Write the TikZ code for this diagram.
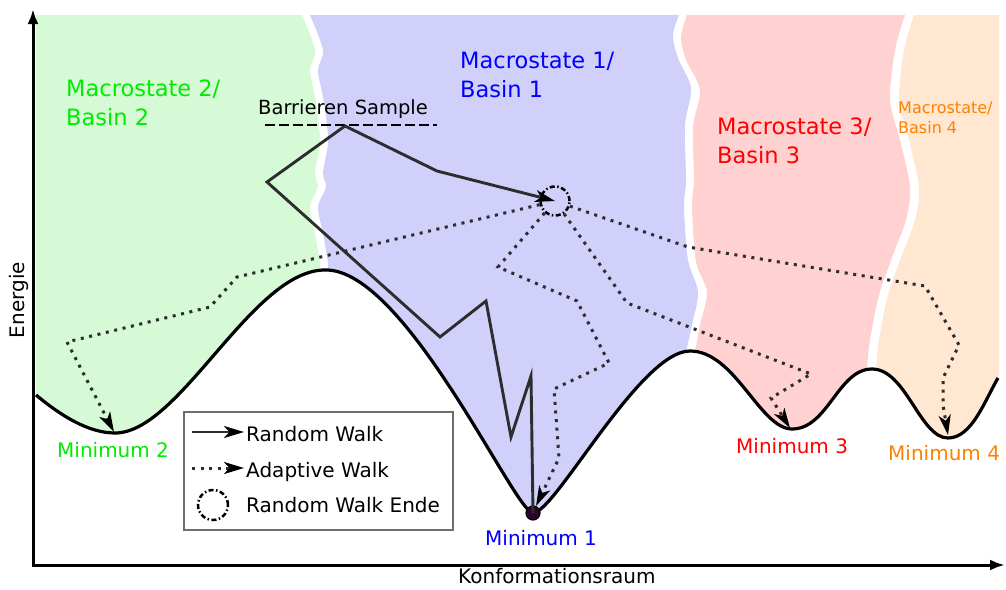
\documentclass[tikz,border=0pt]{standalone}
\usepackage{fontspec}
\setmainfont{DejaVu Sans}
\usetikzlibrary{arrows.meta}

\definecolor{fillGreen}{RGB}{213,250,213}
\definecolor{fillBlue}{RGB}{208,208,251}
\definecolor{fillRed}{RGB}{255,209,209}
\definecolor{fillOrange}{RGB}{255,231,210}
\definecolor{txtGreen}{RGB}{0,235,0}
\definecolor{txtBlue}{RGB}{0,0,255}
\definecolor{txtRed}{RGB}{255,0,0}
\definecolor{txtOrange}{RGB}{255,128,0}
\definecolor{walkgray}{RGB}{45,45,45}
\definecolor{legendgray}{RGB}{110,110,110}
\definecolor{dotpurple}{RGB}{45,5,40}

\begin{document}
\begin{tikzpicture}[x=1pt,y=-1pt,
  walktip/.style={-{Stealth[length=20pt,width=12pt,inset=5.5pt,color=black]}},
  rwalk/.style={walkgray, line width=2.9pt, line join=miter, walktip},
  awalk/.style={walkgray, line width=3pt, dash pattern=on 3pt off 5.6pt, walktip},
  axisline/.style={black, line width=3pt, {Latex[length=15pt,width=11pt]}-{Latex[length=15pt,width=11pt]}},
  landscape/.style={black, line width=3.2pt},
  endring/.style={circle, draw=black, line width=2.5pt, minimum size=29pt, inner sep=0pt,
    dash pattern=on 5pt off 2.5pt on 1.5pt off 2.5pt},
  bigtxt/.style={anchor=base west, inner sep=0pt, align=left, font=\fontsize{22.5}{28.5}\selectfont},
  midtxt/.style={anchor=base west, inner sep=0pt, font=\fontsize{20}{24}\selectfont},
]
\useasboundingbox (0,0) rectangle (1006,589);

% coloured basins, kept above the energy landscape
\begin{scope}
  \clip (36,395) .. controls (60,415) and (88,433) .. (115,433)
    .. controls (180,433) and (252,270) .. (325,270)
    .. controls (405,268) and (515,513) .. (533,513)
    .. controls (555,513) and (640,351) .. (690,351)
    .. controls (735,351) and (760,429) .. (792,429)
    .. controls (828,429) and (838,369) .. (872,369)
    .. controls (906,369) and (920,438) .. (948,438)
    .. controls (972,438) and (985,400) .. (998,378)
    -- (1003,370) -- (1003,0) -- (36,0) -- cycle;
  \fill[fillGreen] (36,15) -- plot[smooth] coordinates {(302,15) (315,50) (310,70) (315,97) (318,117) (320,143) (315,173) (318,187) (310,207) (315,233) (320,262)}
    -- (320,600) -- (36,600) -- cycle;
  \fill[fillBlue] plot[smooth] coordinates {(310,15) (323,50) (318,70) (323,97) (326,117) (328,143) (323,173) (326,187) (318,207) (323,233) (328,262)}
    -- (328,600) -- (686,600)
    -- plot[smooth] coordinates {(686,352) (692,325) (698,292) (688,260) (684,207) (686,180) (685,125) (691,88) (678,58) (673,35) (679,15)} -- cycle;
  \fill[fillRed] plot[smooth] coordinates {(687,15) (681,37) (686,60) (700,90) (693,127) (694,180) (692,207) (696,262) (707,292) (700,325) (695,352)}
    -- (695,600) -- (867,600)
    -- plot[smooth] coordinates {(867,369) (870,340) (879,295) (893,255) (906,220) (910,187) (900,140) (890,100) (895,50) (905,15)} -- cycle;
  \fill[fillOrange] plot[smooth] coordinates {(914,15) (904,50) (899,100) (909,140) (919,187) (915,220) (902,255) (888,295) (879,340) (876,369)}
    -- (876,600) -- (999,600) -- (999,15) -- cycle;
\end{scope}

% energy landscape
\draw[landscape] (36,395) .. controls (60,415) and (88,433) .. (115,433)
    .. controls (180,433) and (252,270) .. (325,270)
    .. controls (405,268) and (515,513) .. (533,513)
    .. controls (555,513) and (640,351) .. (690,351)
    .. controls (735,351) and (760,429) .. (792,429)
    .. controls (828,429) and (838,369) .. (872,369)
    .. controls (906,369) and (920,438) .. (948,438)
    .. controls (972,438) and (985,400) .. (998,378);

% minima and walk vertices
\coordinate (min2) at (114,432);
\coordinate (min1) at (536,506);
\coordinate (min3) at (790,428);
\coordinate (min4) at (948,435);
\node[endring] (ende) at (555,201) {};

\coordinate (r1) at (531,376);
\coordinate (r2) at (511,437);
\coordinate (r3) at (486,301);
\coordinate (r4) at (440,337);
\coordinate (r5) at (267,182);
\coordinate (r6) at (345,126);
\coordinate (r7) at (437,171);

% barrier level
\coordinate (barL) at (265,125);
\coordinate (barR) at (437,125);
\draw[black, line width=2.8pt, dash pattern=on 9.5pt off 4.5pt] (barL) -- (barR);
\node[midtxt, font=\fontsize{19.5}{23}\selectfont] (barlabel) at (258,114) {Barrieren Sample};

% adaptive walks from the end of the random walk
\draw[awalk] (ende) -- (237,277) -- (210,307) -- (67,342) -- (min2);
\draw[awalk] (ende) -- (498,267) -- (577,301) -- (609,363) -- (554,389) -- (559,458) -- (min1);
\draw[awalk] (ende) -- (627,303) -- (811,374) -- (771,398) -- (min3);
\draw[awalk] (ende) -- (688,247) -- (925,286) -- (959,345) -- (943,378) -- (943,405) -- (min4);

% random walk
\node[circle, fill=dotpurple, draw=black, line width=1.2pt, minimum size=14pt, inner sep=0pt] (dot1) at (533,513) {};
\draw[rwalk] (dot1.center) -- (r1) -- (r2) -- (r3) -- (r4) -- (r5) -- (r6) -- (r7) -- (ende.center);

% basin labels
\node[bigtxt, text=txtGreen] (mac2) at (66,125) {Macrostate 2/\\Basin 2};
\node[bigtxt, text=txtBlue] (mac1) at (460,97) {Macrostate 1/\\Basin 1};
\node[bigtxt, text=txtRed] (mac3) at (717,163) {Macrostate 3/\\Basin 3};
\node[anchor=base west, inner sep=0pt, align=left, font=\fontsize{16}{20}\selectfont, text=txtOrange] (mac4) at (898,133) {Macrostate/\\Basin 4};

\node[midtxt, text=txtGreen] (lmin2) at (57,457) {Minimum 2};
\node[midtxt, text=txtBlue] (lmin1) at (485,545) {Minimum 1};
\node[midtxt, text=txtRed] (lmin3) at (736,453) {Minimum 3};
\node[midtxt, text=txtOrange] (lmin4) at (888,460) {Minimum 4};

% legend
\node[draw=legendgray, line width=2.4pt, fill=white, anchor=north west, inner sep=0pt,
  minimum width=269pt, minimum height=118pt] (legend) at (183,411) {};
\coordinate (l1a) at (192,432);
\coordinate (l1b) at (244,432);
\draw[rwalk] (l1a) -- (l1b);
\node[midtxt] (l1t) at (246,441) {Random Walk};
\coordinate (l2a) at (192,468);
\coordinate (l2b) at (244,468);
\draw[awalk] (l2a) -- (l2b);
\node[midtxt] (l2t) at (246,477) {Adaptive Walk};
\node[endring, minimum size=30pt] (l3c) at (213,505) {};
\node[midtxt] (l3t) at (246,512) {Random Walk Ende};

% axes
\coordinate (ytop) at (33,9);
\coordinate (origin) at (33,565);
\coordinate (xend) at (1005,565);
\draw[axisline] (ytop) -- (origin) -- (xend);
\node[rotate=90, inner sep=0pt, font=\fontsize{20}{24}\selectfont] (ylabel) at (19,300) {Energie};
\node[midtxt] (xlabel) at (458,583) {Konformationsraum};
\end{tikzpicture}
\end{document}
